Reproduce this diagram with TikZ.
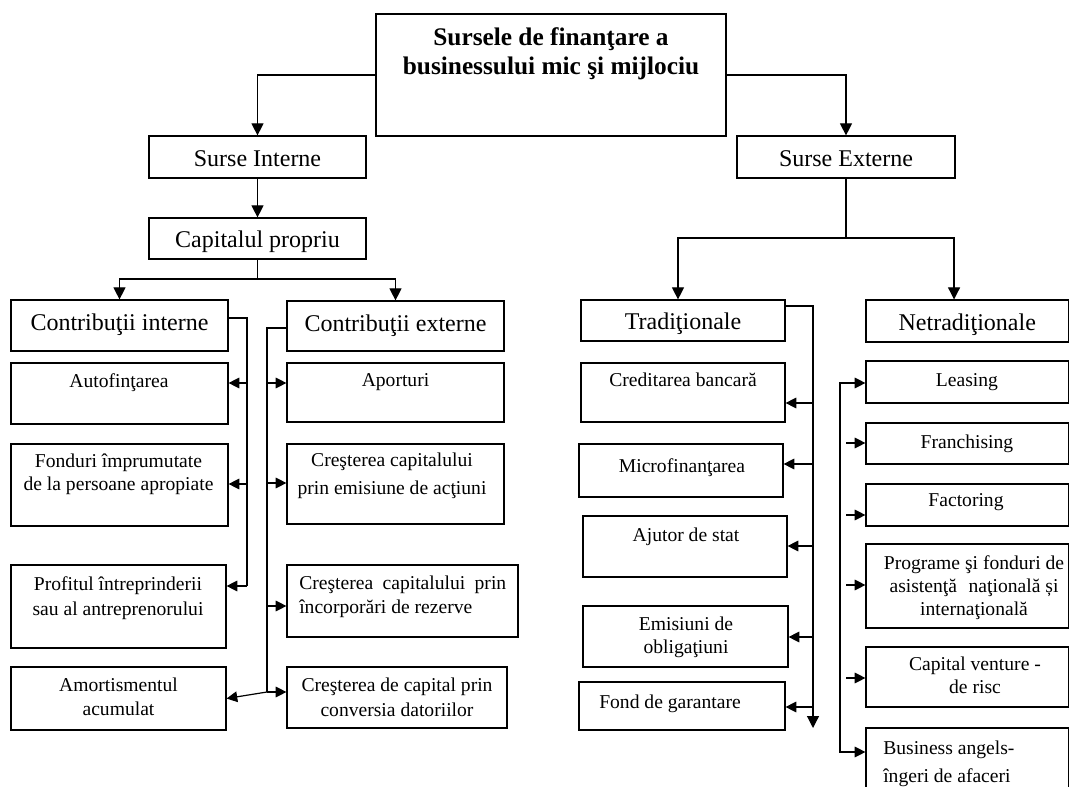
\documentclass[tikz,border=0pt]{standalone}
\usepackage{fontspec}
\setmainfont{Liberation Serif}
\usetikzlibrary{arrows.meta,fit}
\newcommand{\bx}[5]{\node[box, fit={(#2,#3) (#4,#5)}] (#1) {};}
\begin{document}
\begin{tikzpicture}[x=0.75pt,y=-0.75pt,
  box/.style={draw, line width=0.9pt, inner sep=0pt},
  big/.style={font=\fontsize{18}{21}\selectfont, inner sep=0pt, text height=12.6pt, text depth=4.5pt},
  low/.style={yshift=-3pt},
  sm/.style={font=\fontsize{14.7}{17.5}\selectfont, inner sep=0pt, align=center, anchor=north},
  ls/.style={font=\fontsize{14.7}{#1}\selectfont},
  ttl/.style={font=\fontsize{19}{21.2}\selectfont\bfseries, inner sep=0pt, align=center, anchor=north},
  conn/.style={line width=0.9pt},
  arr/.style={conn, -{Triangle[length=8pt,width=8pt]}},
  arrbig/.style={conn, -{Triangle[length=9pt,width=9pt]}},
  arrb/.style={conn, {Triangle[length=8pt,width=8pt]}-{Triangle[length=8pt,width=8pt]}}]
\useasboundingbox (0,0) rectangle (1070,787);
\fill[white] (0,0) rectangle (1070,787);
\clip (0,0) rectangle (1070,787);

% boxes
\bx{top}{376}{14}{726}{136}
\bx{si}{149}{136}{366}{178}
\bx{cp}{149}{218}{366}{259}
\bx{se}{737}{136}{955}{178}
\bx{ci}{11}{300}{228}{351}
\bx{ce}{287}{301}{504}{351}
\bx{a1}{11}{363}{228}{424}
\bx{a2}{11}{444}{228}{526}
\bx{a3}{11}{565}{226}{648}
\bx{a4}{11}{667}{226}{730}
\bx{b1}{287}{363}{504}{422}
\bx{b2}{287}{444}{504}{524}
\bx{b3}{287}{565}{518}{637}
\bx{b4}{287}{667}{507}{728}
\bx{trad}{581}{300}{785}{341}
\bx{netrad}{866}{300}{1068.5}{342}
\bx{c1}{581}{363}{785}{422}
\bx{c2}{579}{444}{783}{497}
\bx{c3}{583}{516}{787}{577}
\bx{c4}{583}{606}{788}{667}
\bx{c5}{579}{682}{785}{730}
\bx{d1}{866}{361}{1068.5}{403}
\bx{d2}{866}{423}{1068.5}{464}
\bx{d3}{866}{484}{1068.5}{526}
\bx{d4}{866}{544}{1068.5}{628}
\bx{d5}{866}{647}{1068.5}{707}
\bx{d6}{866}{728}{1068.5}{800}

% texts
\node[ttl] (ttltext) at (551,27.7) {Sursele de finanţare a\\businessului mic şi mijlociu};
\node[big, low] at (si) {Surse Interne};
\node[big, low] at (cp) {Capitalul propriu};
\node[big, low] at (se) {Surse Externe};
\node[big] at (ci) {Contribuţii interne};
\node[big] at (ce) {Contribuţii externe};
\node[big, low] at (trad) {Tradiţionale};
\node[big, low] at (netrad) {Netradiţionale};

\node[sm] at (119,373.6) {Autofinţarea};
\node[sm] at (118.5,453.3) {Fonduri împrumutate\\de la persoane apropiate};
\node[sm, ls=18.75pt] at (118,576.6) {Profitul întreprinderii\\sau al antreprenorului};
\node[sm] at (118.5,678) {Amortismentul\\acumulat};
\node[sm] at (395.5,373.6) {Aporturi};
\node[sm, ls=21pt] at (392,453) {Creşterea capitalului\\prin emisiune de acţiuni};
\node[sm, anchor=north west, align=left] at (299,576) {Creşterea\hspace{7pt}capitalului\hspace{7pt}prin\\încorporări de rezerve};
\node[sm, ls=18.75pt] at (397,678) {Creşterea de capital prin\\conversia datoriilor};
\node[sm] at (683,373) {Creditarea bancară};
\node[sm] at (682,458) {Microfinanţarea};
\node[sm] at (686,528) {Ajutor de stat};
\node[sm] at (686,616.6) {Emisiuni de\\obligaţiuni};
\node[sm] at (670,695) {Fond de garantare};
\node[sm] at (967,373.6) {Leasing};
\node[sm] at (967,435) {Franchising};
\node[sm] at (966,493) {Factoring};
\node[sm] at (974,555) {Programe şi fonduri de\\asistenţă\hspace{5pt} naţională și\\internaţională};
\node[sm] at (975,656.6) {Capital venture -\\de risc};
\node[sm, ls=20.8pt, anchor=north west, align=left] at (883,740.6) {Business angels-\\îngeri de afaceri};

% top level connectors
\draw[arrbig] (top.west) -| (si.north);
\draw[arrbig] (top.east) -| (se.north);
\draw[arrbig] (si) -- (cp);
\coordinate (cpj) at (257.5,279);
\draw[conn] (cp.south) -- (cpj);
\draw[arrbig] (cpj) -| (ci.north);
\draw[arrbig] (cpj) -| (ce.north);
\coordinate (sej) at (846,238);
\draw[conn] (se.south) -- (sej);
\draw[arrbig] (sej) -| ([xshift=-3.75pt]trad.north);
\draw[arrbig] (sej) -| ([xshift=-9.9pt]netrad.north);

% Contributii interne trunk
\coordinate (lt1) at (247,318);
\coordinate (lt2) at (247,586);
\draw[conn] (ci.east |- lt1) -- (lt1) -- (lt2);
\draw[arr] (lt1 |- 0,383) -- (a1.east |- 0,383);
\draw[arr] (lt1 |- 0,484) -- (a2.east |- 0,484);
\draw[arr] (lt2) -- (a3.east |- lt2);

% Contributii externe trunk
\coordinate (rt1) at (267,328);
\coordinate (rt2) at (267,692);
\draw[conn] (ce.west |- rt1) -- (rt1) -- (rt2);
\draw[arr] (rt1 |- 0,383) -- (b1.west |- 0,383);
\draw[arr] (rt1 |- 0,483) -- (b2.west |- 0,483);
\draw[arr] (rt1 |- 0,606) -- (b3.west |- 0,606);
\draw[arr] (rt2) -- (b4.west |- rt2);
\draw[arr] (rt2) -- (a4.east);

% Traditionale trunk
\coordinate (tt1) at (813,306);
\coordinate (tt2) at (813,728);
\draw[arrbig] (trad.east |- tt1) -- (tt1) -- (tt2);
\draw[arr] (tt1 |- 0,403) -- (c1.east |- 0,403);
\draw[arr] (tt1 |- 0,464) -- (c2.east |- 0,464);
\draw[arr] (tt1 |- 0,546) -- (c3.east |- 0,546);
\draw[arr] (tt1 |- 0,637) -- (c4.east |- 0,637);
\draw[arr] (tt1 |- 0,707) -- (c5.east |- 0,707);

% Netraditionale trunk
\coordinate (nt1) at (840,383);
\coordinate (nt2) at (840,752);
\draw[arrb] (d1.west |- nt1) -- (nt1) -- (nt2) -- (d6.west |- nt2);
\draw[arr] (846,443) -- (d2.west |- 0,443);
\draw[arr] (846,515) -- (d3.west |- 0,515);
\draw[arr] (846,585) -- (d4.west |- 0,585);
\draw[arr] (846,678) -- (d5.west |- 0,678);
\end{tikzpicture}
\end{document}
